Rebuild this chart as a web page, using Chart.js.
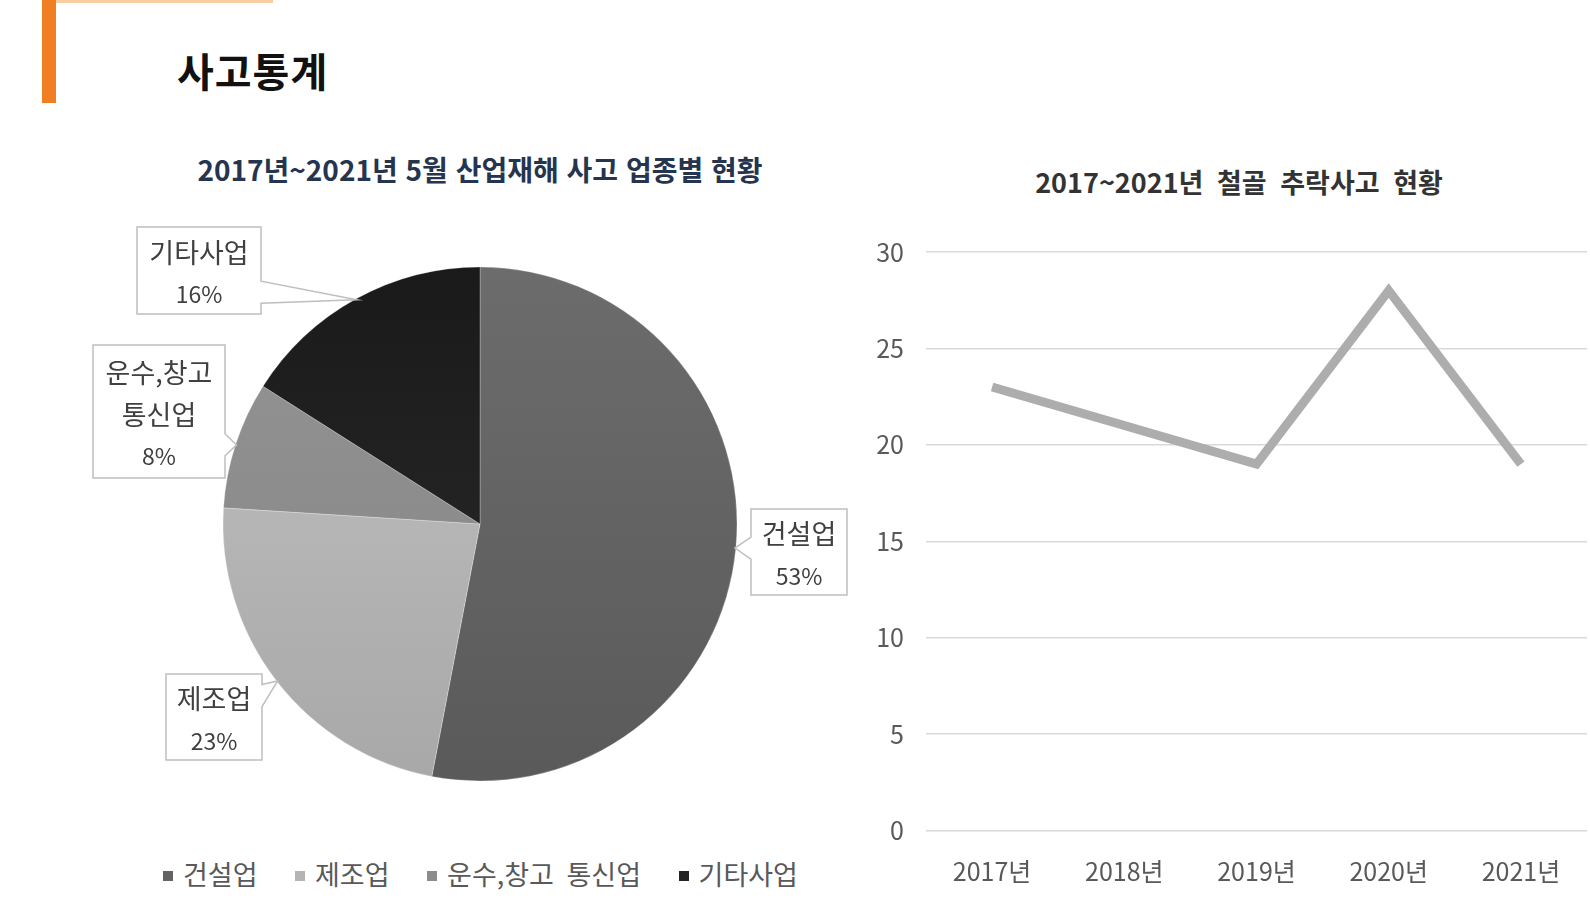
<!DOCTYPE html>
<html lang="ko"><head><meta charset="utf-8">
<script src="https://cdn.jsdelivr.net/npm/chart.js@4.4.1/dist/chart.umd.min.js"></script>
<style>
html,body{margin:0;padding:0;background:#fff;}
body{width:1590px;height:901px;position:relative;overflow:hidden;font-family:"Noto Sans CJK KR","Noto Sans",sans-serif;}
.abs{position:absolute;}
#bar{left:42px;top:0;width:14px;height:103px;background:#ef7f22;}
#topline{left:56px;top:0;width:217px;height:3px;background:#f9cda2;}
#mainTitle{left:177px;top:45px;font-size:40px;font-weight:700;color:#111;line-height:50px;letter-spacing:1px;white-space:nowrap;}
#pieTitle{left:80px;width:800px;top:151px;text-align:center;font-size:28px;font-weight:700;color:#25344f;line-height:36px;white-space:nowrap;}
#lineTitle{left:939px;width:600px;top:164px;text-align:center;font-size:27px;font-weight:700;color:#333;line-height:36px;word-spacing:6px;white-space:nowrap;}
#pieBox{left:80px;top:200px;width:800px;height:650px;}
#lineBox{left:840px;top:215px;width:750px;height:686px;}
#legend{left:163px;top:857px;display:flex;gap:37.5px;line-height:34px;}
.item{display:flex;align-items:center;font-size:27px;color:#595959;white-space:nowrap;word-spacing:5px;}
.sw{width:10px;height:10px;margin-right:10px;margin-top:3px;}
</style>
</head><body>
<div id="bar" class="abs"></div>
<div id="topline" class="abs"></div>
<div id="mainTitle" class="abs">사고통계</div>
<div id="pieTitle" class="abs">2017년~2021년 5월 산업재해 사고 업종별 현황</div>
<div id="lineTitle" class="abs">2017~2021년 철골 추락사고 현황</div>
<div id="pieBox" class="abs"><canvas id="pie"></canvas></div>
<div id="lineBox" class="abs"><canvas id="line"></canvas></div>
<div id="legend" class="abs"></div>
<script>
// ---- data ----
const pieLabels = ['건설업', '제조업', '운수,창고 통신업', '기타사업'];
const pieValues = [53, 23, 8, 16];
const calloutText = [['건설업'], ['제조업'], ['운수,창고', '통신업'], ['기타사업']];
const years = ['2017년', '2018년', '2019년', '2020년', '2021년'];
const falls = [23, 21, 19, 28, 19];
const yTicks = [0, 5, 10, 15, 20, 25, 30];

// ---- styles ----
const pieColors = ['#646464', '#b4b4b4', '#8c8c8c', '#242424'];
const pieTop = ['#6c6c6c', '#c2c2c2', '#949494', '#1a1a1a'];
const pieBottom = ['#5a5a5a', '#a8a8a8', '#848484', '#2c2c2c'];
// callout boxes, offsets from pie centre (px)
const calloutBoxes = [
  {dx: 271, dy: -15, w: 96, h: 86},
  {dx: -314, dy: 150, w: 96, h: 86},
  {dx: -387, dy: -179, w: 132, h: 133},
  {dx: -343, dy: -297, w: 124, h: 87}
];
const FONT = '"Noto Sans CJK KR","Noto Sans",sans-serif';

// legend
const lg = document.getElementById('legend');
pieLabels.forEach((l, i) => {
  const it = document.createElement('div'); it.className = 'item';
  const sw = document.createElement('span'); sw.className = 'sw'; sw.style.background = pieColors[i];
  it.appendChild(sw); it.appendChild(document.createTextNode(l)); lg.appendChild(it);
});

const total = pieValues.reduce((a, b) => a + b, 0);
const callouts = {
  id: 'callouts',
  afterDatasetsDraw(chart) {
    const ctx = chart.ctx;
    const meta = chart.getDatasetMeta(0);
    meta.data.forEach((arc, i) => {
      const p = arc.getProps(['x', 'y', 'startAngle', 'endAngle', 'outerRadius'], true);
      const mid = (p.startAngle + p.endAngle) / 2;
      const tx = p.x + Math.cos(mid) * (p.outerRadius - 1);
      const ty = p.y + Math.sin(mid) * (p.outerRadius - 1);
      const b = calloutBoxes[i];
      const L = p.x + b.dx, T = p.y + b.dy, R = L + b.w, B = T + b.h;
      const clamp = (v, a, c) => Math.max(a, Math.min(c, v));
      ctx.save();
      ctx.beginPath();
      if (tx > R) {
        const cy = clamp(ty, T + b.h * 0.25, B - b.h * 0.25);
        ctx.moveTo(L, T); ctx.lineTo(R, T); ctx.lineTo(R, cy - 11); ctx.lineTo(tx, ty);
        ctx.lineTo(R, cy + 11); ctx.lineTo(R, B); ctx.lineTo(L, B);
      } else if (tx < L) {
        const cy = clamp(ty, T + b.h * 0.25, B - b.h * 0.25);
        ctx.moveTo(L, T); ctx.lineTo(R, T); ctx.lineTo(R, B); ctx.lineTo(L, B);
        ctx.lineTo(L, cy + 11); ctx.lineTo(tx, ty); ctx.lineTo(L, cy - 11);
      } else {
        ctx.rect(L, T, b.w, b.h);
      }
      ctx.closePath();
      ctx.fillStyle = '#fff'; ctx.fill();
      ctx.strokeStyle = '#bfbfbf'; ctx.lineWidth = 1.5; ctx.stroke();
      const lines = calloutText[i].concat([Math.round(pieValues[i] / total * 100) + '%']);
      const step = 42;
      const cx = (L + R) / 2, cyc = (T + B) / 2 + 3;
      ctx.fillStyle = '#404040'; ctx.textAlign = 'center'; ctx.textBaseline = 'middle';
      lines.forEach((t, k) => {
        const isPct = k === lines.length - 1;
        ctx.font = (isPct ? '23px ' : '27px ') + FONT;
        ctx.fillText(t, cx, cyc + (k - (lines.length - 1) / 2) * step);
      });
      ctx.restore();
    });
  }
};

new Chart(document.getElementById('pie'), {
  type: 'pie',
  data: {
    labels: pieLabels,
    datasets: [{
      data: pieValues,
      backgroundColor: (c) => {
        const a = c.chart.chartArea;
        if (!a || c.type !== 'data') return pieColors[c.dataIndex];
        const g = c.chart.ctx.createLinearGradient(0, a.top, 0, a.bottom);
        g.addColorStop(0, pieTop[c.dataIndex]);
        g.addColorStop(1, pieBottom[c.dataIndex]);
        return g;
      },
      borderColor: 'rgba(255,255,255,0.35)',
      borderWidth: 0.75,
      hoverOffset: 0
    }]
  },
  options: {
    responsive: true, maintainAspectRatio: false, animation: false,
    radius: 257,
    layout: {padding: {left: 143, right: 143, top: 67, bottom: 69}},
    plugins: {legend: {display: false}, tooltip: {enabled: false}, title: {display: false}}
  },
  plugins: [callouts]
});

new Chart(document.getElementById('line'), {
  type: 'line',
  data: {
    labels: years,
    datasets: [{
      data: falls,
      borderColor: '#adadad',
      borderWidth: 9,
      pointRadius: 0,
      tension: 0,
      fill: false,
      borderJoinStyle: 'miter',
      borderCapStyle: 'butt'
    }]
  },
  options: {
    responsive: true, maintainAspectRatio: false, animation: false,
    layout: {padding: {top: 12.5, right: 3, left: 0, bottom: 0}},
    plugins: {legend: {display: false}, tooltip: {enabled: false}},
    scales: {
      x: {
        offset: true,
        grid: {display: false, drawTicks: false},
        border: {display: false},
        ticks: {color: '#595959', font: {family: FONT, size: 25}, padding: 26, maxRotation: 0},
        afterFit: (s) => { s.height = 70.5; }
      },
      y: {
        min: yTicks[0], max: yTicks[yTicks.length - 1],
        afterBuildTicks: (s) => { s.ticks = yTicks.map(v => ({value: v})); },
        grid: {color: '#d9d9d9', lineWidth: 1.5, drawTicks: false},
        border: {display: false},
        ticks: {color: '#595959', font: {family: FONT, size: 25}, padding: 22},
        afterFit: (s) => { s.width = 86; }
      }
    }
  }
});
</script>
</body></html>
